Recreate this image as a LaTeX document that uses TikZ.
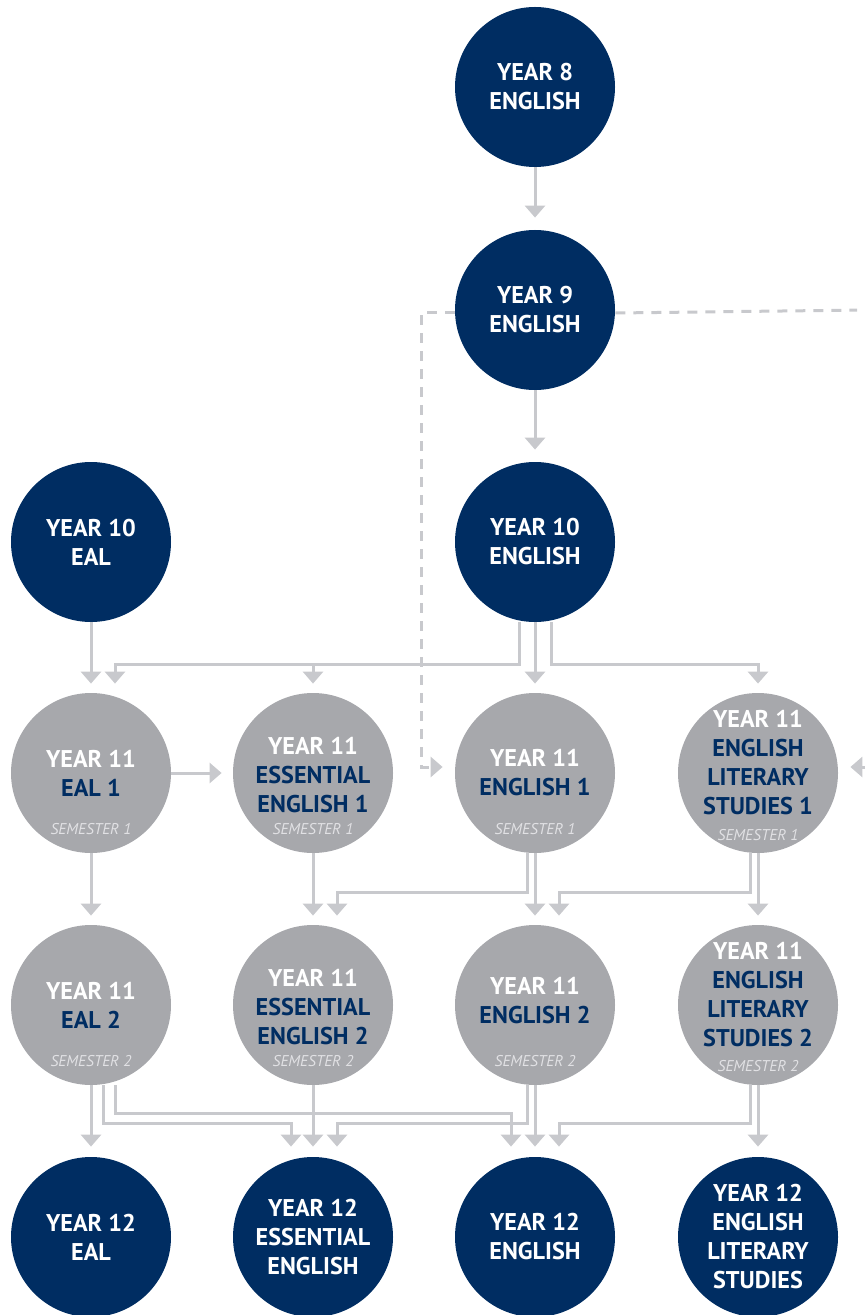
\documentclass[tikz,border=0pt]{standalone}
\usepackage{fontspec}
\setmainfont{PT Sans}
\usetikzlibrary{arrows.meta,calc}
\definecolor{navyblue}{RGB}{0,45,98}
\definecolor{greycirc}{RGB}{167,168,172}
\definecolor{linkgrey}{RGB}{200,201,205}
\definecolor{semtext}{RGB}{225,225,228}
\newcommand{\yeartag}[1]{\textcolor{white}{YEAR #1}}
\tikzset{
  navy/.style={circle, fill=navyblue, minimum size=80pt, inner sep=0pt, text=white,
    font=\bfseries\fontsize{12.1}{14.5}\selectfont, align=center},
  grey/.style={circle, fill=greycirc, minimum size=80pt, inner sep=0pt},
  gtxt/.style={text=navyblue, font=\bfseries\fontsize{12.1}{14.5}\selectfont, align=center, inner sep=0pt},
  sem/.style={text=semtext, font=\itshape\fontsize{7.8}{9}\selectfont, inner sep=0pt},
  link/.style={draw=linkgrey, line width=1.5pt, -{Triangle[length=6pt,width=10pt]}, shorten >=4.5pt},
  dlink/.style={link, line width=1.5pt, dash pattern=on 5pt off 4pt}
}
\begin{document}
\begin{tikzpicture}[x=0.5pt,y=-0.5pt]
\useasboundingbox (0,0) rectangle (865,1315);
% navy circles
\node[navy] (y8) at (535,87) {YEAR 8\\ENGLISH};
\node[navy] (y9) at (535,310) {YEAR 9\\ENGLISH};
\node[navy] (y10eal) at (91,542) {YEAR 10\\EAL};
\node[navy] (y10eng) at (535,542) {YEAR 10\\ENGLISH};
% year 11, semester 1
\node[grey] (eal1) at (91,773) {};
\node[gtxt] (eal1t) at (eal1) {\yeartag{11}\\EAL 1};
\node[sem] (eal1s) at ([yshift=-28pt]eal1) {SEMESTER 1};
\node[grey] (ess1) at (313,773) {};
\node[gtxt] (ess1t) at ([yshift=-1pt]ess1) {\yeartag{11}\\ESSENTIAL\\ENGLISH 1};
\node[sem] (ess1s) at ([yshift=-28pt]ess1) {SEMESTER 1};
\node[grey] (eng1) at (535,773) {};
\node[gtxt] (eng1t) at (eng1) {\yeartag{11}\\ENGLISH 1};
\node[sem] (eng1s) at ([yshift=-28pt]eng1) {SEMESTER 1};
\node[grey] (lit1) at (758,773) {};
\node[gtxt] (lit1t) at ([yshift=5pt]lit1) {\yeartag{11}\\ENGLISH\\LITERARY\\STUDIES 1};
\node[sem] (lit1s) at ([yshift=-31pt]lit1) {SEMESTER 1};
% year 11, semester 2
\node[grey] (eal2) at (91,1005) {};
\node[gtxt] (eal2t) at (eal2) {\yeartag{11}\\EAL 2};
\node[sem] (eal2s) at ([yshift=-28pt]eal2) {SEMESTER 2};
\node[grey] (ess2) at (313,1005) {};
\node[gtxt] (ess2t) at ([yshift=-1pt]ess2) {\yeartag{11}\\ESSENTIAL\\ENGLISH 2};
\node[sem] (ess2s) at ([yshift=-28pt]ess2) {SEMESTER 2};
\node[grey] (eng2) at (535,1005) {};
\node[gtxt] (eng2t) at ([yshift=2pt]eng2) {\yeartag{11}\\ENGLISH 2};
\node[sem] (eng2s) at ([yshift=-28pt]eng2) {SEMESTER 2};
\node[grey] (lit2) at (758,1005) {};
\node[gtxt] (lit2t) at ([yshift=5pt]lit2) {\yeartag{11}\\ENGLISH\\LITERARY\\STUDIES 2};
\node[sem] (lit2s) at ([yshift=-30.5pt]lit2) {SEMESTER 2};
% year 12
\node[navy] (y12eal) at (91,1237) {YEAR 12\\EAL};
\node[navy] (y12ess) at (313,1237) {YEAR 12\\ESSENTIAL\\ENGLISH};
\node[navy] (y12eng) at (535,1237) {YEAR 12\\ENGLISH};
\node[navy] (y12lit) at (758,1237) {YEAR 12\\ENGLISH\\LITERARY\\STUDIES};
% levels of the cross lines
\coordinate (h1) at (0,664);
\coordinate (h2) at (0,892);
\coordinate (h3) at (0,1123);
\coordinate (h4) at (0,1113);
% years 8 to 10
\draw[link, shorten >=6pt] (y8) -- (y9);
\draw[link, shorten >=6pt] (y9) -- (y10eng);
% dashed paths from year 9
\coordinate (dl1) at (421,313);
\coordinate (dl2) at (421,767);
\coordinate (rin) at (866,767);
\draw[dlink, shorten >=6pt] ([yshift=-1.5pt]y9.west) -- (dl1) -- (dl2) -- (eng1.west |- dl2);
\draw[dlink, -] ([yshift=-1.5pt]y9.east) -- (y9.east -| rin);
\draw[dlink, shorten >=6pt] (rin) -- (lit1.east |- rin);
% year 10 to year 11
\draw[link] (y10eal) -- (eal1);
\draw[link] ([xshift=-8pt]y10eng.south) -- ([xshift=-8pt]y10eng.south |- h1) -| ([xshift=12pt]eal1.north);
\draw[link] (ess1.north |- h1) -- (ess1.north);
\draw[link] (y10eng) -- (eng1);
\draw[link] ([xshift=8pt]y10eng.south) -- ([xshift=8pt]y10eng.south |- h1) -| (lit1.north);
\draw[link, shorten >=5.5pt] (eal1) -- (ess1);
% semester 1 to semester 2
\draw[link] (eal1) -- (eal2);
\draw[link] (ess1) -- (ess2);
\draw[link] ([xshift=-4pt]eng1.south) -- ([xshift=-4pt]eng1.south |- h2) -| ([xshift=12pt]ess2.north);
\draw[link] (eng1) -- (eng2);
\draw[link] ([xshift=-4pt]lit1.south) -- ([xshift=-4pt]lit1.south |- h2) -| ([xshift=12pt]eng2.north);
\draw[link] (lit1) -- (lit2);
% semester 2 to year 12
\draw[link, shorten >=5pt] (eal2) -- (y12eal);
\draw[link, shorten >=5pt] ([xshift=6pt]eal2.south) -- ([xshift=6pt]eal2.south |- h3) -| ([xshift=-11pt]y12ess.north);
\draw[link, shorten >=5pt] ([xshift=12pt]eal2.south) -- ([xshift=12pt]eal2.south |- h4) -| ([xshift=-12pt]y12eng.north);
\draw[link, shorten >=5pt] (ess2) -- (y12ess);
\draw[link, shorten >=5pt] ([xshift=-4pt]eng2.south) -- ([xshift=-4pt]eng2.south |- h3) -| ([xshift=12pt]y12ess.north);
\draw[link, shorten >=5pt] (eng2) -- (y12eng);
\draw[link, shorten >=5pt] ([xshift=-4pt]lit2.south) -- ([xshift=-4pt]lit2.south |- h3) -| ([xshift=12pt]y12eng.north);
\draw[link, shorten >=5pt] (lit2) -- (y12lit);
\end{tikzpicture}
\end{document}
